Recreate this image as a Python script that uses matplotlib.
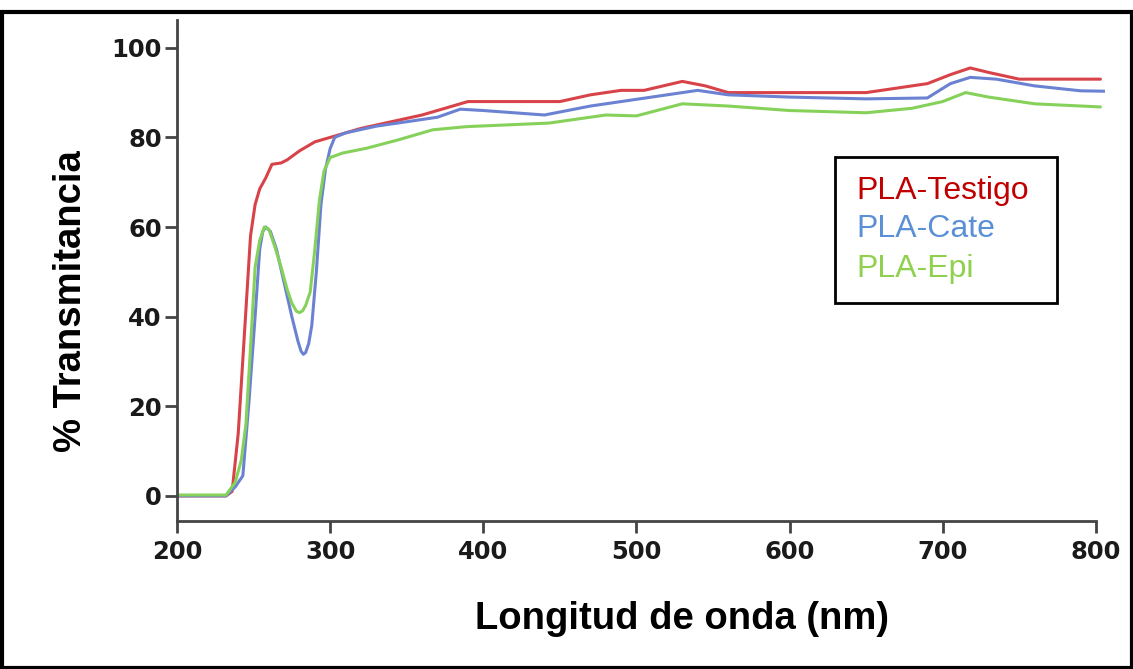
import numpy as np
import matplotlib
matplotlib.use("Agg")
from matplotlib import pyplot as plt
from matplotlib.patches import Rectangle

# PLA-Testigo (control)
testigo_nm = [200, 232, 236, 240, 244, 248, 251, 254, 258, 262, 268, 272, 280, 290, 300, 320, 340, 360,
              375, 390, 450, 470, 490, 505, 530, 545, 560, 600, 650, 690, 705, 718, 730, 750, 803]
testigo_t = [0, 0, 1, 14, 36, 58, 65, 68.5, 71, 74, 74.3, 75, 77, 79, 80, 82, 83.5, 85,
             86.5, 88, 88, 89.5, 90.5, 90.5, 92.5, 91.5, 90, 90, 90, 92, 94, 95.5, 94.5, 93, 93]

# PLA-Cate
cate_nm = [200, 232, 238, 243, 247, 251, 254, 256, 258, 261, 265, 270, 275, 279, 281, 282.5, 284,
           286, 288, 291, 294, 297, 300, 303, 310, 330, 350, 370, 385, 400, 420, 440, 470, 490,
           510, 540, 560, 600, 650, 690, 705, 718, 735, 760, 790, 807]
cate_t = [0, 0, 2, 4.5, 21, 40, 55, 59, 60, 59, 55, 47.5, 40, 34.5, 32.3, 31.6, 32,
          34, 38, 50, 65, 73, 77.5, 80, 81, 82.5, 83.5, 84.5, 86.3, 86, 85.5, 85, 87, 88,
          89, 90.5, 89.5, 89, 88.6, 88.8, 92, 93.4, 93, 91.5, 90.4, 90.3]

# PLA-Epi
epi_nm = [200, 232, 238, 242, 245, 248, 251, 254, 257, 260, 264, 268, 272, 275, 278, 280, 282,
          284, 287, 290, 293, 296, 300, 308, 324, 345, 367, 389, 443, 480, 500, 530, 560,
          600, 650, 680, 700, 715, 730, 760, 803]
epi_t = [0.2, 0.2, 3, 8, 16, 33, 51, 57, 60, 59.5, 55.5, 51, 46, 43, 41.2, 40.9, 41.3,
         42.5, 45.5, 55, 66, 72.5, 75.5, 76.5, 77.6, 79.5, 81.7, 82.4, 83.2, 85, 84.8, 87.5, 87,
         86, 85.5, 86.5, 88, 90, 89, 87.5, 86.8]

series = [
    ("PLA-Testigo", testigo_nm, testigo_t, "#d8434a", "#c00000"),
    ("PLA-Cate", cate_nm, cate_t, "#6b82d2", "#5b8fd6"),
    ("PLA-Epi", epi_nm, epi_t, "#86d15a", "#8fd14f"),
]

W, H = 1133, 669
fig = plt.figure(figsize=(W / 100, H / 100), dpi=100)
ax = fig.add_axes([177 / W, 1 - 521 / H, (1105 - 177) / W, (521 - 20) / H])

for label, x, y, color, text_color in series:
    ax.plot(x, y, color=color, linewidth=2.2, label=label,
            solid_joinstyle="round", solid_capstyle="round")

ax.set_xlim(200, 806)
ax.set_ylim(-5.6, 106.2)
ax.set_xticks(np.arange(200, 801, 100))
ax.set_yticks(np.arange(0, 101, 20))
ax.spines["top"].set_visible(False)
ax.spines["right"].set_visible(False)
ax.spines["bottom"].set_bounds(200, 800)
for side in ["left", "bottom"]:
    ax.spines[side].set_color("#444444")
    ax.spines[side].set_linewidth(2)
ax.tick_params(direction="out", length=8.5, width=2, color="#444444", pad=2.5)
ax.tick_params(axis="x", pad=5)
for lab in ax.get_xticklabels() + ax.get_yticklabels():
    lab.set_fontfamily("DejaVu Sans")
    lab.set_fontweight("bold")
    lab.set_fontsize(17.5)
    lab.set_color("#1a1a1a")

ax.set_xlabel("Longitud de onda (nm)", fontsize=27.5, fontweight="bold",
              family="Liberation Sans")
ax.xaxis.set_label_coords(0.544, -0.16)
ax.set_ylabel("% Transmitancia", fontsize=27.5, fontweight="bold",
              family="Liberation Sans")
ax.yaxis.set_label_coords(-0.095, 0.438)

# legend: framed box with coloured names only
fig.patches.append(Rectangle((835 / W, 1 - 303 / H), 222 / W, 146 / H,
                             transform=fig.transFigure, fill=True, facecolor="white",
                             edgecolor="black", linewidth=2, zorder=5))
for (label, x, y, color, text_color), base in zip(series, [198.5, 237.5, 277]):
    fig.text(856 / W, 1 - base / H, label, color=text_color, fontsize=23,
             family="Liberation Sans", va="baseline", ha="left", zorder=6)

fig.patches.append(Rectangle((1.5 / W, 1.5 / H), 1 - 3 / W, 1 - 13 / H,
                             transform=fig.transFigure, fill=False,
                             edgecolor="black", linewidth=3))

fig.savefig("out.png", dpi=100)
